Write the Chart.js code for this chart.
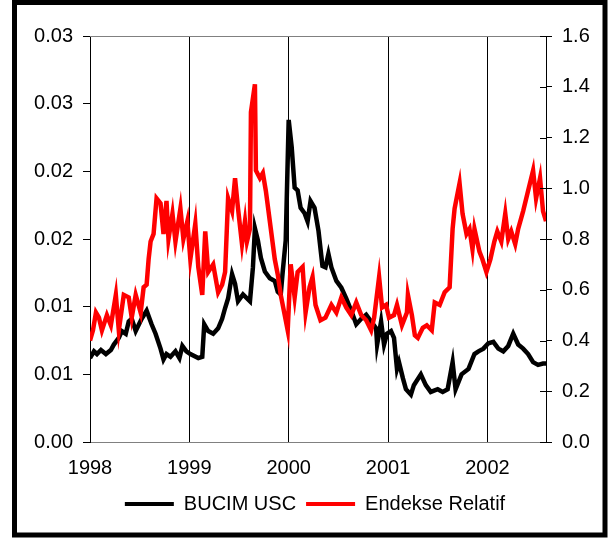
<!DOCTYPE html>
<html>
<head>
<meta charset="utf-8">
<script src="https://cdn.jsdelivr.net/npm/chart.js@4.4.0/dist/chart.umd.min.js"></script>
<style>
  body { margin: 0; background: #fff; }
  canvas { display: block; }
</style>
</head>
<body>
<canvas id="chart" width="610" height="538"></canvas>
<script>
// BUCIM USC (left axis) - decimal years and values
const blackYears = [
    1998.00, 1998.04, 1998.07, 1998.11, 1998.16, 1998.21, 1998.24, 1998.29, 1998.32, 1998.36,
    1998.39, 1998.42, 1998.46, 1998.52, 1998.57, 1998.62, 1998.66, 1998.71, 1998.74, 1998.77,
    1998.81, 1998.86, 1998.90, 1998.93, 1998.97, 1999.01, 1999.09, 1999.13, 1999.15, 1999.19,
    1999.24, 1999.29, 1999.33, 1999.36, 1999.39, 1999.43, 1999.46, 1999.49, 1999.54, 1999.61,
    1999.64, 1999.66, 1999.69, 1999.72, 1999.76, 1999.81, 1999.86, 1999.89, 1999.92, 1999.94,
    1999.97, 2000.00, 2000.03, 2000.06, 2000.09, 2000.12, 2000.16, 2000.19, 2000.22, 2000.26,
    2000.30, 2000.34, 2000.37, 2000.40, 2000.43, 2000.48, 2000.53, 2000.58, 2000.63, 2000.68,
    2000.73, 2000.78, 2000.83, 2000.88, 2000.89, 2000.93, 2000.96, 2000.99, 2001.03, 2001.06,
    2001.09, 2001.11, 2001.15, 2001.18, 2001.23, 2001.26, 2001.33, 2001.38, 2001.43, 2001.50,
    2001.55, 2001.60, 2001.65, 2001.68, 2001.74, 2001.81, 2001.87, 2001.91, 2001.96, 2002.01,
    2002.06, 2002.11, 2002.16, 2002.21, 2002.26, 2002.31, 2002.36, 2002.41, 2002.46, 2002.51,
    2002.56, 2002.59
];
const blackValues = [
    0.0062, 0.0067, 0.0065, 0.0068, 0.0065, 0.0068, 0.0072, 0.0077, 0.0082, 0.0080,
    0.0089, 0.0091, 0.0082, 0.0091, 0.0097, 0.0087, 0.0080, 0.0069, 0.0061, 0.0065,
    0.0063, 0.0067, 0.0062, 0.0071, 0.0067, 0.0065, 0.0062, 0.0063, 0.0087, 0.0082,
    0.0080, 0.0084, 0.0091, 0.0099, 0.0106, 0.0124, 0.0117, 0.0104, 0.0109, 0.0104,
    0.0129, 0.0158, 0.0149, 0.0136, 0.0126, 0.0121, 0.0119, 0.0111, 0.0109, 0.0126,
    0.0149, 0.0238, 0.0218, 0.0188, 0.0186, 0.0173, 0.0169, 0.0163, 0.0178, 0.0173,
    0.0156, 0.0130, 0.0129, 0.0139, 0.0129, 0.0119, 0.0114, 0.0106, 0.0097, 0.0087,
    0.0091, 0.0094, 0.0089, 0.0084, 0.0072, 0.0089, 0.0072, 0.0080, 0.0082, 0.0077,
    0.0054, 0.0059, 0.0047, 0.0039, 0.0035, 0.0042, 0.0050, 0.0042, 0.0037, 0.0039,
    0.0037, 0.0039, 0.0059, 0.0039, 0.0050, 0.0054, 0.0065, 0.0067, 0.0069, 0.0073,
    0.0074, 0.0069, 0.0067, 0.0071, 0.0080, 0.0072, 0.0069, 0.0065, 0.0059, 0.0057,
    0.0058, 0.0058
];

// Endekse Relatif (right axis)
const redYears = [
    1998.00, 1998.03, 1998.06, 1998.09, 1998.12, 1998.17, 1998.21, 1998.26, 1998.29, 1998.34,
    1998.39, 1998.42, 1998.46, 1998.51, 1998.54, 1998.57, 1998.59, 1998.61, 1998.64, 1998.67,
    1998.71, 1998.74, 1998.77, 1998.79, 1998.83, 1998.86, 1998.91, 1998.94, 1998.98, 1999.01,
    1999.06, 1999.09, 1999.13, 1999.16, 1999.19, 1999.24, 1999.29, 1999.33, 1999.36, 1999.39,
    1999.43, 1999.46, 1999.49, 1999.53, 1999.56, 1999.58, 1999.61, 1999.62, 1999.66, 1999.67,
    1999.71, 1999.74, 1999.77, 1999.82, 1999.86, 1999.89, 1999.92, 1999.96, 1999.99, 2000.02,
    2000.06, 2000.09, 2000.14, 2000.17, 2000.21, 2000.24, 2000.27, 2000.32, 2000.37, 2000.43,
    2000.48, 2000.53, 2000.58, 2000.63, 2000.68, 2000.73, 2000.78, 2000.83, 2000.86, 2000.91,
    2000.94, 2000.98, 2001.01, 2001.06, 2001.09, 2001.14, 2001.19, 2001.20, 2001.24, 2001.27,
    2001.30, 2001.35, 2001.39, 2001.44, 2001.47, 2001.52, 2001.57, 2001.62, 2001.65, 2001.67,
    2001.72, 2001.75, 2001.79, 2001.82, 2001.85, 2001.87, 2001.92, 2001.95, 2001.99, 2002.03,
    2002.07, 2002.10, 2002.14, 2002.18, 2002.21, 2002.24, 2002.28, 2002.31, 2002.36, 2002.41,
    2002.46, 2002.49, 2002.53, 2002.56, 2002.59
];
const redValues = [
    0.40, 0.44, 0.51, 0.49, 0.44, 0.50, 0.46, 0.58, 0.44, 0.58,
    0.57, 0.49, 0.58, 0.51, 0.61, 0.62, 0.72, 0.79, 0.82, 0.96,
    0.94, 0.82, 0.95, 0.80, 0.90, 0.79, 0.92, 0.80, 0.87, 0.72,
    0.86, 0.69, 0.58, 0.83, 0.67, 0.70, 0.59, 0.62, 0.67, 0.96,
    0.91, 1.04, 0.92, 0.78, 0.87, 0.79, 0.84, 1.30, 1.41, 1.07,
    1.04, 1.06, 0.99, 0.84, 0.72, 0.66, 0.58, 0.50, 0.44, 0.70,
    0.57, 0.67, 0.69, 0.51, 0.61, 0.65, 0.54, 0.48, 0.49, 0.54,
    0.51, 0.57, 0.53, 0.50, 0.55, 0.50, 0.48, 0.44, 0.49, 0.65,
    0.53, 0.54, 0.49, 0.50, 0.54, 0.46, 0.51, 0.58, 0.50, 0.42,
    0.41, 0.45, 0.46, 0.44, 0.55, 0.54, 0.59, 0.61, 0.84, 0.92,
    1.02, 0.90, 0.82, 0.84, 0.76, 0.84, 0.75, 0.72, 0.67, 0.72,
    0.79, 0.83, 0.79, 0.90, 0.80, 0.83, 0.78, 0.84, 0.91, 0.99,
    1.07, 0.96, 1.04, 0.91, 0.87
];

// left axis labels as printed (rounded to 2 decimals)
const leftTickLabels = ['0.00', '0.01', '0.01', '0.02', '0.02', '0.03', '0.03'];

const fontFamily = '"Liberation Sans", Arial, sans-serif';

function toPoints(xs, ys) {
    return xs.map(function (x, i) { return { x: x, y: ys[i] }; });
}

// outer frame, top border line and inner ticks on the right axis
const framePlugin = {
    id: 'frame',
    afterDraw(chart) {
        const ctx = chart.ctx;
        const area = chart.chartArea;
        ctx.save();
        ctx.strokeStyle = '#808080';
        ctx.lineWidth = 1;
        ctx.beginPath();
        ctx.moveTo(area.left, area.top + 0.5);
        ctx.lineTo(area.right, area.top + 0.5);
        ctx.stroke();

        const y1 = chart.scales.y1;
        ctx.strokeStyle = '#000';
        ctx.beginPath();
        y1.ticks.forEach(function (t) {
            const py = Math.round(y1.getPixelForValue(t.value)) + 0.5;
            ctx.moveTo(area.right - 6, py);
            ctx.lineTo(area.right, py);
        });
        ctx.stroke();

        ctx.lineWidth = 5;
        ctx.strokeRect(14.5, 2.5, 590.5, 532.5);
        ctx.restore();
    }
};

new Chart(document.getElementById('chart'), {
    type: 'line',
    data: {
        datasets: [{
            label: 'BUCIM USC',
            data: toPoints(blackYears, blackValues),
            borderColor: '#000000',
            backgroundColor: '#000000',
            borderWidth: 4.5,
            borderJoinStyle: 'miter',
            pointRadius: 0,
            tension: 0,
            yAxisID: 'y',
            order: 2
        }, {
            label: 'Endekse Relatif',
            data: toPoints(redYears, redValues),
            borderColor: '#ff0000',
            backgroundColor: '#ff0000',
            borderWidth: 4.5,
            borderJoinStyle: 'miter',
            pointRadius: 0,
            tension: 0,
            yAxisID: 'y1',
            order: 1
        }]
    },
    options: {
        responsive: false,
        animation: false,
        devicePixelRatio: 1,
        layout: { padding: { top: 36, left: 20, right: 0, bottom: 14 } },
        plugins: {
            tooltip: { enabled: false },
            legend: {
                position: 'bottom',
                labels: {
                    color: '#000',
                    font: { family: fontFamily, size: 20 },
                    boxWidth: 49,
                    boxHeight: 4,
                    padding: 10,
                    generateLabels(chart) {
                        const items = Chart.defaults.plugins.legend.labels.generateLabels(chart);
                        items.sort(function (a, b) { return a.datasetIndex - b.datasetIndex; });
                        items.forEach(function (it) { it.lineWidth = 0; it.fillStyle = it.strokeStyle; });
                        return items;
                    }
                }
            }
        },
        scales: {
            x: {
                type: 'linear',
                min: 1998,
                max: 2002.59,
                ticks: {
                    stepSize: 1,
                    includeBounds: false,
                    color: '#000',
                    padding: 14,
                    font: { family: fontFamily, size: 20 },
                    callback: function (v) { return String(v); }
                },
                grid: { color: '#000', lineWidth: 1, drawTicks: false },
                border: { color: '#808080', width: 1 },
                afterFit(scale) { scale.height = 42; }
            },
            y: {
                position: 'left',
                min: 0,
                max: 0.03,
                ticks: {
                    stepSize: 0.005,
                    color: '#000',
                    padding: 10,
                    font: { family: fontFamily, size: 20 },
                    callback: function (v, i) { return leftTickLabels[i]; }
                },
                grid: { drawOnChartArea: false, tickLength: 7, color: '#000' },
                border: { color: '#000', width: 1 },
                afterFit(scale) { scale.width = 70; }
            },
            y1: {
                position: 'right',
                min: 0,
                max: 1.6,
                ticks: {
                    stepSize: 0.2,
                    color: '#000',
                    padding: 10,
                    font: { family: fontFamily, size: 20 },
                    callback: function (v) { return v.toFixed(1); }
                },
                grid: { drawOnChartArea: false, tickLength: 6, color: '#000' },
                border: { color: '#000', width: 1 },
                afterFit(scale) { scale.width = 64; }
            }
        }
    },
    plugins: [framePlugin]
});
</script>
</body>
</html>
